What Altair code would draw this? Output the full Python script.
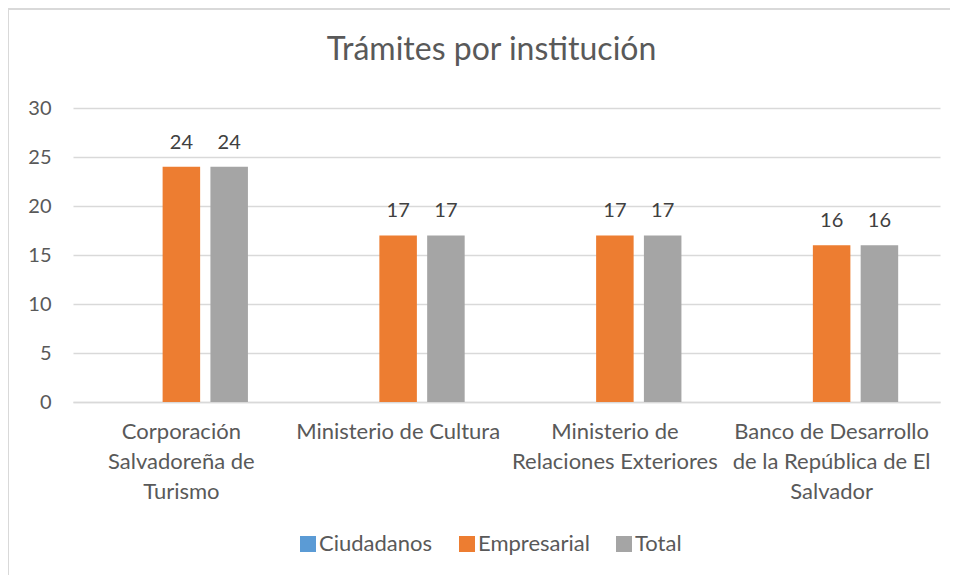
import altair as alt
import pandas as pd

categories = [
    "Corporación Salvadoreña de Turismo",
    "Ministerio de Cultura",
    "Ministerio de Relaciones Exteriores",
    "Banco de Desarrollo de la República de El Salvador",
]
label_lines = [
    ["Corporación", "Salvadoreña de", "Turismo"],
    ["Ministerio de Cultura"],
    ["Ministerio de", "Relaciones Exteriores"],
    ["Banco de Desarrollo", "de la República de El", "Salvador"],
]
series = ["Ciudadanos", "Empresarial", "Total"]
ciudadanos = [0, 0, 0, 0]
empresarial = [24, 17, 17, 16]
total = [24, 17, 17, 16]
colors = ["#5B9BD5", "#ED7D31", "#A5A5A5"]
y_ticks = [0, 5, 10, 15, 20, 25, 30]

rows = []
for i, c in enumerate(categories):
    for s, vals in zip(series, [ciudadanos, empresarial, total]):
        rows.append({"cat": c, "serie": s, "valor": vals[i]})
df = pd.DataFrame(rows)

FONT = "Lato"
TXT = "#595959"

# multi-line axis labels
expr = "''"
for c, lines in reversed(list(zip(categories, label_lines))):
    arr = "[" + ",".join("'" + l + "'" for l in lines) + "]"
    expr = f"datum.label == '{c}' ? {arr} : ({expr})"

x_enc = alt.X(
    "cat:N",
    sort=categories,
    title=None,
    scale=alt.Scale(paddingInner=0, paddingOuter=0),
    axis=alt.Axis(
        labelExpr=expr,
        labelAngle=0,
        labelFont=FONT,
        labelFontSize=22,
        labelColor=TXT,
        labelLineHeight=30,
        labelPadding=19,
        labelBaseline="top",
        labelLimit=0,
        ticks=False,
        domainColor="#D9D9D9",
        domainWidth=1.5,
        grid=False,
    ),
)
xoff = alt.XOffset(
    "serie:N",
    sort=series,
    scale=alt.Scale(paddingInner=0.215, paddingOuter=0.875),
)
y_scale = alt.Scale(domain=[0, 30], nice=False)

bars = alt.Chart(df).mark_bar().encode(
    x=x_enc,
    xOffset=xoff,
    y=alt.Y(
        "valor:Q",
        scale=y_scale,
        title=None,
        axis=alt.Axis(
            values=y_ticks,
            labelFont=FONT,
            labelFontSize=20,
            labelColor=TXT,
            labelPadding=22,
            ticks=False,
            domain=False,
            gridColor="#D9D9D9",
            gridWidth=1.5,
        ),
    ),
    color=alt.Color(
        "serie:N",
        sort=series,
        scale=alt.Scale(domain=series, range=colors),
        legend=alt.Legend(
            title=None,
            orient="none",
            direction="horizontal",
            legendX=224,
            legendY=425,
            symbolType="square",
            symbolSize=256,
            symbolStrokeWidth=0,
            labelFont=FONT,
            labelFontSize=22,
            labelColor=TXT,
            labelOffset=0,
            columnPadding=23,
        ),
    ),
)

labels = alt.Chart(df).transform_filter("datum.valor > 0").mark_text(
    font=FONT, fontSize=20, color="#404040", baseline="alphabetic", dy=-18
).encode(
    x=alt.X("cat:N", sort=categories),
    xOffset=xoff,
    y=alt.Y("valor:Q", scale=y_scale),
    text="valor:Q",
)

frame_df = pd.DataFrame({"k": [0]})
frame_top = alt.Chart(frame_df).mark_rule(color="#D9D9D9", strokeWidth=2).encode(
    x=alt.value(-65), x2=alt.value(900), y=alt.value(-99)
)
frame_left = alt.Chart(frame_df).mark_rule(color="#D9D9D9", strokeWidth=2).encode(
    x=alt.value(-65), y=alt.value(-99), y2=alt.value(480)
)

chart = alt.layer(bars, labels, frame_top, frame_left).properties(
    width=867,
    height=294,
    title=alt.TitleParams(
        "Trámites por institución",
        font=FONT,
        fontSize=32,
        fontWeight="normal",
        color=TXT,
        anchor="middle",
        baseline="alphabetic",
        dx=-15,
        offset=-84,
    ),
    autosize=alt.AutoSizeParams(type="none"),
    padding={"left": 65, "top": 100, "right": 10, "bottom": 173},
    background="white",
).configure_view(stroke=None)

chart.save("out.html", embed_options={"renderer": "svg", "actions": False})
